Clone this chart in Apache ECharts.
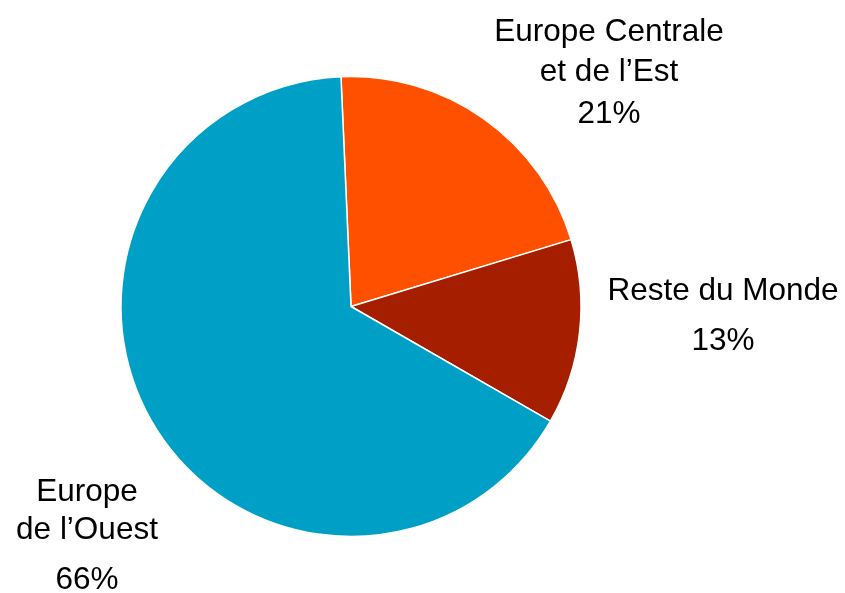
<!DOCTYPE html>
<html>
<head>
<meta charset="utf-8">
<style>
  html, body { margin: 0; padding: 0; background: #ffffff; }
  #chart { width: 845px; height: 593px; }
</style>
<script src="https://cdn.jsdelivr.net/npm/echarts@6/dist/echarts.min.js"></script>
</head>
<body>
<div id="chart"></div>
<script>
// Regional breakdown (share in %)
const regions = ['Europe Centrale\net de l’Est', 'Reste du Monde', 'Europe\nde l’Ouest'];
const shares = [21, 13, 66];
const sliceColors = ['#FF5000', '#A51E00', '#00A0C6'];

// Label anchor points (centre of each text block, in pixels)
const labelAnchors = [[609, 74], [723, 321], [87, 542]];
// Line heights for the name lines and the percentage line of each label
const pctLineHeights = [44, 60, 62];
const nameLineHeights = [40, 40, 38];

const chart = echarts.init(document.getElementById('chart'), null, { renderer: 'canvas' });

const FONT = 'Liberation Sans, Arial, sans-serif';
const rich = {};
regions.forEach((_, i) => {
  rich['n' + i] = { fontSize: 31.5, lineHeight: nameLineHeights[i], color: '#000', fontFamily: FONT, align: 'center' };
  rich['p' + i] = { fontSize: 31.5, lineHeight: pctLineHeights[i], color: '#000', fontFamily: FONT, align: 'center' };
});

chart.setOption({
  animation: false,
  backgroundColor: '#ffffff',
  series: [{
    type: 'pie',
    center: [351, 306.5],
    radius: [0, 230],
    startAngle: 92.5,
    clockwise: true,
    avoidLabelOverlap: false,
    itemStyle: { borderColor: '#ffffff', borderWidth: 1.5 },
    label: {
      show: true,
      position: 'outside',
      formatter: (p) => {
        const i = p.dataIndex;
        const nameLines = p.name.split('\n').map(s => '{n' + i + '|' + s + '}').join('\n');
        return nameLines + '\n{p' + i + '|' + p.value + '%}';
      },
      rich: rich
    },
    labelLine: { show: false },
    labelLayout: (params) => {
      const a = labelAnchors[params.dataIndex];
      return { x: a[0], y: a[1], align: 'center', verticalAlign: 'middle', hideOverlap: false, moveOverlap: null };
    },
    emphasis: { disabled: true },
    data: regions.map((name, i) => ({ name: name, value: shares[i], itemStyle: { color: sliceColors[i] } }))
  }]
});
</script>
</body>
</html>
